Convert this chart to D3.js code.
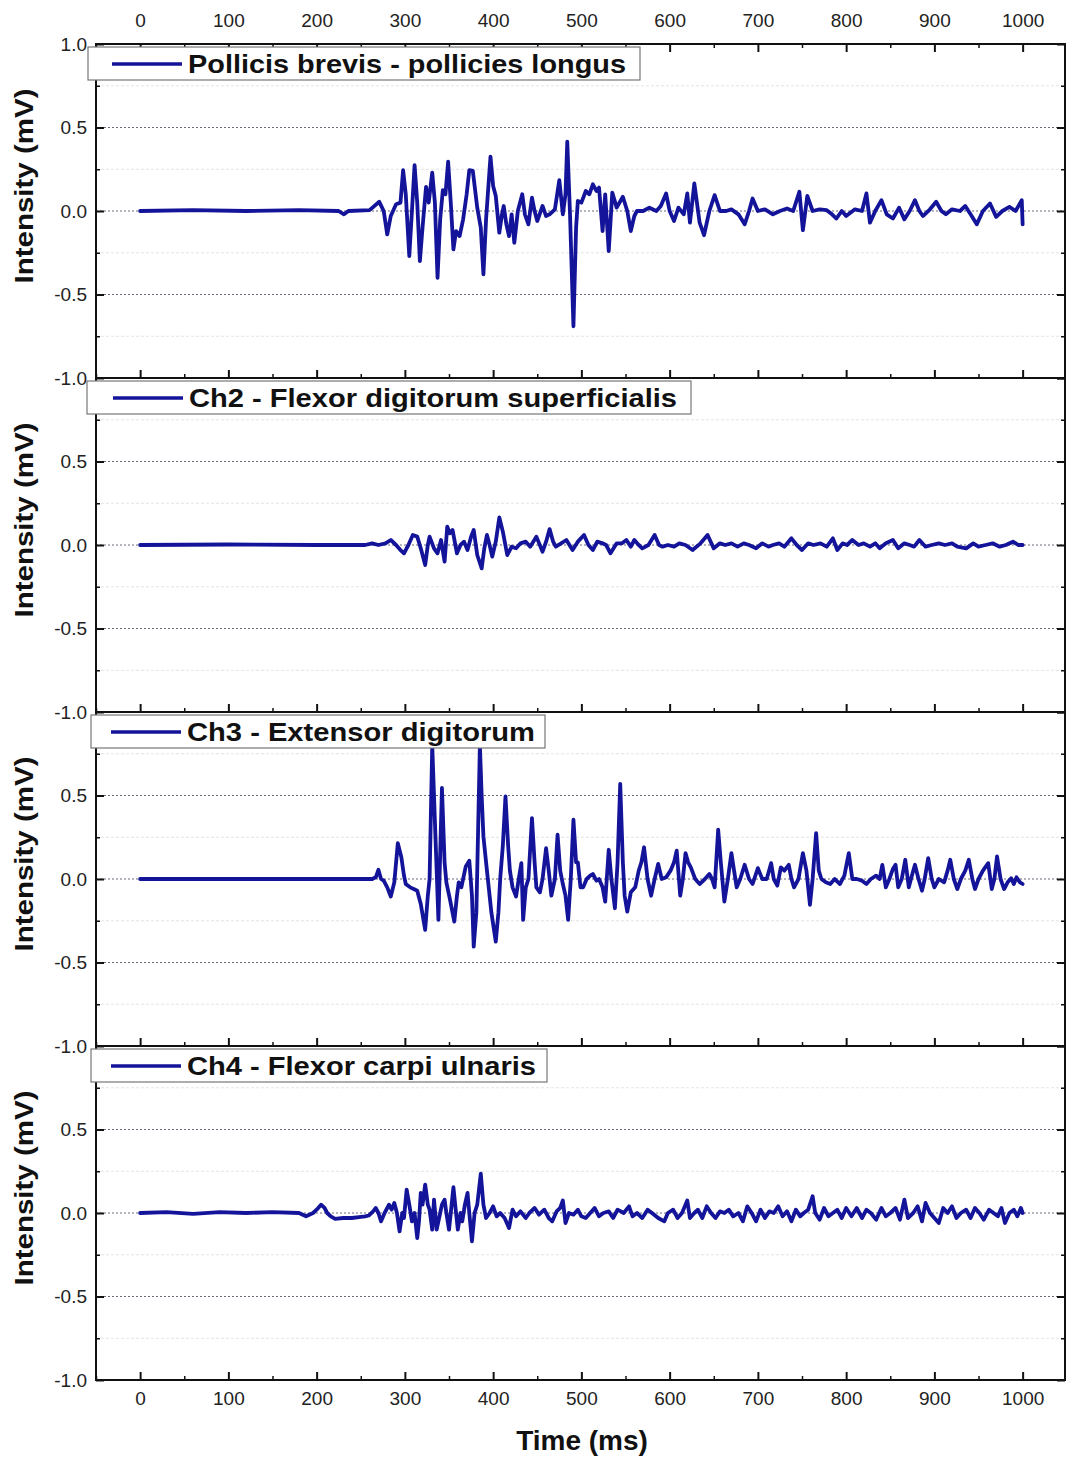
<!DOCTYPE html>
<html>
<head>
<meta charset="utf-8">
<script src="https://cdn.jsdelivr.net/npm/d3@7/dist/d3.min.js"></script>
<style>
html,body{margin:0;padding:0;background:#fff;}
svg{display:block;}
text{font-family:"Liberation Sans",Arial,sans-serif;}
</style>
</head>
<body>
<script>
// ---------- data ----------
const xTicks = [0,100,200,300,400,500,600,700,800,900,1000];
const yTicks = [-1,-0.5,0,0.5,1];
const legendNames = ["Pollicis brevis - pollicies longus","Ch2 - Flexor digitorum superficialis","Ch3 - Extensor digitorum","Ch4 - Flexor carpi ulnaris"];
const yTitle = "Intensity (mV)";
const xTitle = "Time (ms)";

const ch1 = [[0,0],[60,0.005],[120,0],[180,0.005],[225,0],[231,-0.02],[236,0.0],[260,0.005],[271,0.055],[276,0],[280,-0.14],[284,-0.03],[290,0.04],[295,0.05],[298,0.245],[301,0.1],[305,-0.27],[308,0],[311,0.275],[314,0.05],[317,-0.30],[320,-0.1],[324,0.145],[327,0.05],[331,0.23],[334,0.05],[337,-0.40],[340,-0.05],[343,0.125],[346,0.1],[349,0.295],[352,0.05],[355,-0.23],[358,-0.12],[362,-0.15],[366,-0.05],[370,0.1],[373,0.245],[377,0.24],[382,0.02],[386,-0.1],[389,-0.38],[392,-0.05],[397,0.325],[400,0.15],[403,0.09],[407,-0.13],[410,-0.02],[412,0.03],[415,-0.08],[418,-0.15],[421,-0.02],[424,-0.19],[428,0.0],[433,0.1],[436,-0.02],[440,-0.08],[444,0.08],[447,0.0],[450,-0.06],[456,0.03],[460,-0.03],[464,-0.02],[470,0.01],[475,0.185],[479,-0.02],[482,0.1],[484,0.415],[487,0.0],[491,-0.69],[494,-0.1],[496,0.06],[500,0.05],[505,0.12],[509,0.1],[513,0.16],[517,0.12],[520,0.14],[524,-0.12],[527,0.1],[531,-0.24],[535,0.11],[540,0.02],[547,0.085],[552,0.0],[556,-0.12],[560,-0.03],[563,0.0],[570,0.0],[577,0.02],[585,0.0],[590,0.03],[596,0.105],[600,0.0],[605,-0.06],[610,0.02],[616,-0.02],[620,0.105],[623,-0.07],[628,0.165],[634,-0.07],[639,-0.145],[645,0.0],[651,0.095],[657,0.0],[664,0.0],[670,0.01],[678,-0.02],[685,-0.08],[690,0.0],[694,0.075],[700,0.0],[708,0.01],[717,-0.02],[725,0.0],[733,0.015],[740,0.0],[747,0.115],[751,-0.115],[756,0.09],[762,0.0],[770,0.01],[778,0.005],[784,-0.02],[789,-0.045],[795,0.0],[800,-0.03],[810,0.01],[818,0.0],[823,0.105],[827,-0.07],[833,0.0],[840,0.065],[846,-0.02],[853,-0.045],[860,0.02],[866,-0.05],[872,0.0],[878,0.065],[883,0.0],[887,-0.03],[895,0.01],[902,0.055],[908,0.0],[913,-0.02],[920,0.01],[929,0.0],[935,0.03],[941,-0.02],[948,-0.08],[955,0.0],[963,0.045],[970,-0.035],[977,0.0],[985,0.025],[992,0.0],[999,0.065],[1000,-0.08]];

const ch2 = [[0,0],[100,0.003],[200,0],[255,0],[263,0.01],[270,0],[278,0.01],[284,0.03],[290,0],[295,-0.03],[299,-0.05],[304,0],[309,0.06],[314,0.05],[318,-0.02],[323,-0.12],[326,0],[328,0.05],[333,-0.02],[337,-0.05],[341,0.03],[345,-0.10],[348,0.11],[351,0.07],[354,0.09],[359,-0.05],[363,0.0],[367,0.02],[371,-0.03],[375,0.05],[378,0.09],[382,-0.06],[387,-0.14],[390,-0.02],[393,0.06],[396,0.0],[399,-0.07],[403,0.02],[407,0.165],[411,0.08],[416,-0.06],[421,-0.01],[426,-0.02],[431,0.01],[437,0.02],[442,-0.01],[449,0.05],[456,-0.04],[460,0.02],[464,0.095],[468,0.02],[471,-0.01],[477,0.01],[483,0.03],[490,-0.03],[496,0.02],[503,0.06],[508,0.0],[513,-0.03],[518,0.02],[524,0.01],[528,0.0],[533,-0.05],[540,0.01],[546,0.01],[551,0.03],[556,-0.01],[560,0.03],[565,0.0],[569,-0.02],[576,0.0],[583,0.06],[588,0.0],[592,-0.01],[598,0.0],[605,-0.01],[611,0.01],[618,0.0],[626,-0.03],[635,0.01],[643,0.06],[650,-0.02],[657,0.01],[663,0.0],[670,0.01],[677,-0.01],[684,0.01],[690,0.0],[698,-0.02],[705,0.01],[712,-0.01],[717,0.0],[724,0.01],[730,-0.01],[738,0.04],[744,0.0],[750,-0.03],[757,0.01],[763,0.0],[771,0.01],[778,-0.01],[785,0.04],[790,-0.03],[796,0.01],[801,0.0],[807,0.03],[814,0.0],[820,0.01],[827,-0.01],[833,0.01],[838,-0.02],[845,0.01],[853,0.03],[859,-0.02],[866,0.01],[872,0.0],[877,-0.01],[883,0.03],[890,-0.01],[897,0.0],[905,0.01],[912,0.0],[920,0.01],[926,-0.01],[936,-0.02],[944,0.01],[950,-0.01],[958,0.0],[966,0.01],[974,-0.01],[981,0.0],[989,0.02],[995,0.0],[1000,0.0]];

const ch3 = [[0,0],[100,0],[200,0],[263,0],[267,0.01],[270,0.055],[273,0.0],[276,-0.01],[280,-0.05],[284,-0.105],[288,-0.02],[292,0.215],[296,0.13],[299,0.02],[301,-0.03],[306,-0.05],[310,-0.06],[314,-0.07],[318,-0.15],[323,-0.305],[326,-0.1],[328,0.0],[331,0.8],[335,0.2],[338,-0.245],[342,0.545],[345,0.1],[347,-0.02],[351,-0.12],[356,-0.255],[359,-0.1],[361,-0.02],[364,-0.05],[369,0.075],[373,0.11],[376,-0.1],[378,-0.405],[381,-0.2],[383,0.3],[385,0.8],[387,0.5],[389,0.255],[392,0.1],[394,0.0],[398,-0.2],[403,-0.375],[406,-0.2],[408,0.0],[411,0.2],[414,0.495],[417,0.2],[419,0.05],[422,-0.05],[426,-0.105],[429,0.0],[432,0.095],[434,-0.245],[437,-0.05],[440,0.0],[444,0.365],[447,0.1],[449,-0.05],[453,-0.08],[456,0.0],[460,0.185],[463,0.05],[466,-0.1],[470,0.0],[473,0.265],[476,0.05],[479,-0.03],[482,-0.1],[485,-0.245],[488,0.0],[491,0.355],[494,0.1],[496,0.1],[499,-0.05],[502,-0.05],[506,0.0],[510,0.02],[513,0.03],[517,-0.01],[520,0.0],[524,-0.05],[527,-0.135],[531,0.175],[534,0.0],[538,-0.175],[541,0.1],[544,0.57],[547,0.1],[549,-0.1],[552,-0.195],[556,-0.08],[561,-0.05],[565,0.05],[568,0.1],[571,0.19],[575,0.0],[579,-0.1],[583,0.0],[587,0.09],[591,0.0],[596,0.01],[601,0.05],[605,0.1],[608,0.17],[612,-0.1],[615,0.0],[618,0.155],[621,0.1],[624,0.07],[629,0.0],[634,-0.03],[640,0.0],[645,0.03],[648,0.0],[651,-0.05],[655,0.295],[658,0.1],[662,-0.135],[666,0.0],[670,0.155],[673,0.05],[676,-0.05],[680,0.0],[685,0.085],[690,0.0],[694,-0.03],[700,0.065],[705,0.0],[710,0.0],[715,0.095],[718,0.0],[722,-0.04],[726,0.07],[730,0.05],[735,0.085],[738,0.0],[741,-0.05],[746,0.0],[751,0.155],[755,0.05],[759,-0.155],[762,0.0],[766,0.275],[769,0.05],[772,0.0],[777,-0.02],[782,-0.03],[787,0.0],[793,-0.03],[798,0.02],[803,0.155],[807,0.0],[812,0.0],[818,-0.01],[823,-0.03],[828,0.0],[834,0.02],[838,0.0],[841,0.085],[845,-0.05],[849,0.0],[853,0.06],[856,0.085],[859,-0.05],[863,0.0],[867,0.115],[871,-0.05],[875,0.03],[878,0.085],[882,0.0],[886,-0.07],[889,0.0],[893,0.125],[897,0.0],[900,-0.05],[905,0.0],[911,-0.02],[915,0.05],[918,0.115],[922,0.0],[926,-0.06],[930,0.0],[935,0.05],[939,0.115],[943,0.0],[946,-0.06],[950,0.0],[955,0.05],[961,0.095],[965,-0.06],[968,0.0],[971,0.135],[975,0.0],[979,-0.06],[983,-0.02],[987,0.005],[990,-0.03],[993,0.01],[997,-0.02],[1000,-0.03]];

const ch4 = [[0,0],[30,0.005],[60,-0.005],[90,0.005],[120,0],[150,0.005],[180,0],[188,-0.02],[196,0.0],[200,0.02],[205,0.05],[209,0.03],[212,0.0],[216,-0.02],[221,-0.035],[230,-0.03],[240,-0.03],[248,-0.025],[255,-0.02],[259,-0.015],[264,0.01],[267,0.03],[270,0.0],[273,-0.05],[277,0.0],[282,0.05],[285,0.02],[288,0.06],[291,0.0],[294,-0.11],[297,0.0],[299,-0.03],[302,0.14],[305,0.05],[308,-0.05],[311,0.0],[314,-0.15],[316,-0.05],[318,0.12],[320,0.05],[323,0.17],[326,0.05],[328,0.02],[331,-0.1],[333,0.08],[336,-0.1],[340,0.0],[342,0.05],[345,0.08],[347,0.0],[350,-0.1],[352,0.0],[355,0.155],[357,0.05],[360,-0.1],[363,0.0],[365,-0.05],[368,0.05],[371,0.12],[373,0.0],[376,-0.17],[379,0.0],[382,0.05],[386,0.235],[389,0.05],[392,-0.03],[396,0.0],[400,0.04],[404,-0.02],[408,0.0],[413,-0.03],[418,-0.09],[422,0.02],[426,-0.02],[431,0.01],[437,-0.03],[441,0.0],[447,0.03],[452,-0.01],[458,0.02],[463,-0.03],[467,-0.05],[472,0.01],[476,0.03],[479,0.075],[482,-0.06],[486,0.0],[491,-0.01],[496,0.02],[500,-0.02],[505,-0.03],[510,0.0],[515,0.03],[520,-0.02],[525,0.0],[531,0.01],[536,-0.03],[541,0.02],[548,0.0],[554,0.04],[558,-0.02],[563,0.0],[569,-0.03],[575,0.02],[580,0.0],[587,-0.03],[594,-0.05],[598,0.0],[604,0.02],[609,-0.03],[614,0.0],[620,0.075],[623,-0.03],[628,0.0],[632,0.02],[637,-0.03],[642,0.04],[647,0.0],[652,-0.03],[657,0.01],[662,0.0],[667,0.02],[672,-0.02],[678,0.0],[683,-0.05],[688,0.04],[693,0.0],[698,-0.05],[703,0.02],[708,-0.03],[713,0.01],[718,0.0],[723,0.04],[728,-0.02],[733,0.01],[738,-0.05],[743,0.02],[748,-0.02],[752,0.0],[757,0.02],[762,0.1],[765,0.0],[770,-0.04],[775,0.03],[780,-0.02],[785,0.0],[790,0.02],[795,-0.03],[800,0.03],[806,-0.02],[812,0.03],[818,-0.03],[823,0.02],[828,0.0],[834,-0.04],[840,0.03],[845,-0.02],[850,0.0],[856,0.03],[861,-0.04],[866,0.08],[870,-0.03],[876,0.0],[881,0.04],[886,-0.05],[890,0.06],[895,0.0],[900,-0.03],[905,-0.06],[910,0.03],[915,0.0],[920,0.04],[925,-0.03],[930,0.0],[936,0.02],[941,-0.03],[946,0.03],[951,0.0],[956,-0.04],[962,0.02],[967,0.0],[972,-0.02],[976,0.03],[980,-0.06],[985,0.0],[990,0.02],[994,-0.02],[998,0.03],[1000,0.0]];

const channels = [ch1, ch2, ch3, ch4];

// ---------- layout ----------
const W = 1066, H = 1459;
const left = 96, right = 1065, panelTop = 44, panelH = 334;
const lineColor = "#14149a";
const legendBoxes = [
  {x:88, w:552, tl:438, lx:24},
  {x:87, w:604, tl:488, lx:26},
  {x:91, w:454, tl:348, lx:20},
  {x:91, w:456, tl:349, lx:20}
];

const svg = d3.select("body").append("svg").attr("width", W).attr("height", H);
const x = d3.scaleLinear().domain([-50, 1048]).range([left, right]);
const minorX = d3.range(-50, 1050, 50).filter(d => d >= -50 && d <= 1048 && d % 100 !== 0);
const fmt = v => v.toFixed(1);

channels.forEach((data, i) => {
  const top = panelTop + i * panelH;
  const y = d3.scaleLinear().domain([-1, 1]).range([top + panelH, top]);
  const g = svg.append("g");

  // minor grid
  g.selectAll(".mg").data([-0.75,-0.25,0.25,0.75]).join("line")
    .attr("x1", left).attr("x2", right).attr("y1", d => y(d)).attr("y2", d => y(d))
    .attr("stroke", "#e4e4e4").attr("stroke-width", 1).attr("stroke-dasharray", "3,2");
  // major grid
  g.selectAll(".Mg").data([-0.5,0,0.5]).join("line")
    .attr("x1", left).attr("x2", right).attr("y1", d => y(d)).attr("y2", d => y(d))
    .attr("stroke", "#6a6a7a").attr("stroke-width", 1).attr("stroke-dasharray", "2,2");

  // left axis
  const la = g.append("g").attr("transform", `translate(${left},0)`)
    .call(d3.axisLeft(y).tickValues(i === 0 ? yTicks : yTicks.filter(d => d < 1)).tickFormat(fmt).tickSize(-8).tickSizeOuter(0).tickPadding(9));
  la.select(".domain").remove();
  la.selectAll("line").attr("stroke", "#111").attr("stroke-width", 2);
  la.selectAll("text").attr("font-size", 19).attr("fill", "#222");
  const lam = g.append("g").attr("transform", `translate(${left},0)`)
    .call(d3.axisLeft(y).tickValues([-0.75,-0.25,0.25,0.75]).tickFormat("").tickSize(-4).tickSizeOuter(0));
  lam.select(".domain").remove();
  lam.selectAll("line").attr("stroke", "#111").attr("stroke-width", 1.5);

  // right axis
  const ra = g.append("g").attr("transform", `translate(${right},0)`)
    .call(d3.axisRight(y).tickValues(yTicks).tickFormat("").tickSize(-8).tickSizeOuter(0));
  ra.select(".domain").remove();
  ra.selectAll("line").attr("stroke", "#111").attr("stroke-width", 2);
  const ram = g.append("g").attr("transform", `translate(${right},0)`)
    .call(d3.axisRight(y).tickValues([-0.75,-0.25,0.25,0.75]).tickFormat("").tickSize(-4).tickSizeOuter(0));
  ram.select(".domain").remove();
  ram.selectAll("line").attr("stroke", "#111").attr("stroke-width", 1.5);

  // bottom axis (ticks inward)
  const ba = g.append("g").attr("transform", `translate(0,${top + panelH})`)
    .call(d3.axisBottom(x).tickValues(xTicks).tickFormat(i === 3 ? d3.format("d") : "").tickSize(-8).tickSizeOuter(0).tickPadding(12));
  ba.select(".domain").remove();
  ba.selectAll("line").attr("stroke", "#111").attr("stroke-width", 2);
  ba.selectAll("text").attr("font-size", 19).attr("fill", "#222");
  const bam = g.append("g").attr("transform", `translate(0,${top + panelH})`)
    .call(d3.axisBottom(x).tickValues(minorX).tickFormat("").tickSize(-4).tickSizeOuter(0));
  bam.select(".domain").remove();
  bam.selectAll("line").attr("stroke", "#111").attr("stroke-width", 1.5);

  if (i === 0) {
    const ta = g.append("g").attr("transform", `translate(0,${top})`)
      .call(d3.axisTop(x).tickValues(xTicks).tickFormat(d3.format("d")).tickSize(-8).tickSizeOuter(0).tickPadding(17));
    ta.select(".domain").remove();
    ta.selectAll("line").attr("stroke", "#111").attr("stroke-width", 2);
    ta.selectAll("text").attr("font-size", 19).attr("fill", "#222");
    const tam = g.append("g").attr("transform", `translate(0,${top})`)
      .call(d3.axisTop(x).tickValues(minorX).tickFormat("").tickSize(-4).tickSizeOuter(0));
    tam.select(".domain").remove();
    tam.selectAll("line").attr("stroke", "#111").attr("stroke-width", 1.5);
  }

  // frame
  g.append("rect").attr("x", left).attr("y", top).attr("width", right - left).attr("height", panelH)
    .attr("fill", "none").attr("stroke", "#111").attr("stroke-width", 2);

  // signal
  const line = d3.line().x(d => x(d[0])).y(d => y(d[1]));
  g.append("path").datum(data).attr("d", line)
    .attr("fill", "none").attr("stroke", lineColor).attr("stroke-width", 3.8)
    .attr("stroke-linejoin", "round").attr("stroke-linecap", "round");

  // legend
  const lb = legendBoxes[i];
  const ly = top + 3;
  const lg = g.append("g");
  lg.append("rect").attr("x", lb.x).attr("y", ly).attr("width", lb.w).attr("height", 33)
    .attr("fill", "#fff").attr("stroke", "#777").attr("stroke-width", 1.2);
  lg.append("line").attr("x1", lb.x + lb.lx).attr("x2", lb.x + lb.lx + 70).attr("y1", ly + 17).attr("y2", ly + 17)
    .attr("stroke", lineColor).attr("stroke-width", 3.5);
  lg.append("text").attr("x", lb.x + lb.lx + 76).attr("y", ly + 26).text(legendNames[i])
    .attr("font-size", 26).attr("font-weight", "bold").attr("fill", "#111")
    .attr("textLength", lb.tl).attr("lengthAdjust", "spacingAndGlyphs");

  // y title
  const cy = top + panelH / 2 - 25;
  svg.append("text").attr("transform", `translate(33,${cy}) rotate(-90)`)
    .attr("text-anchor", "middle").text(yTitle)
    .attr("font-size", 26).attr("font-weight", "bold").attr("fill", "#111")
    .attr("textLength", 195).attr("lengthAdjust", "spacingAndGlyphs");
});

// x title
svg.append("text").attr("x", 582).attr("y", 1450).attr("text-anchor", "middle")
  .text(xTitle).attr("font-size", 28).attr("font-weight", "bold").attr("fill", "#111");
</script>
</body>
</html>
